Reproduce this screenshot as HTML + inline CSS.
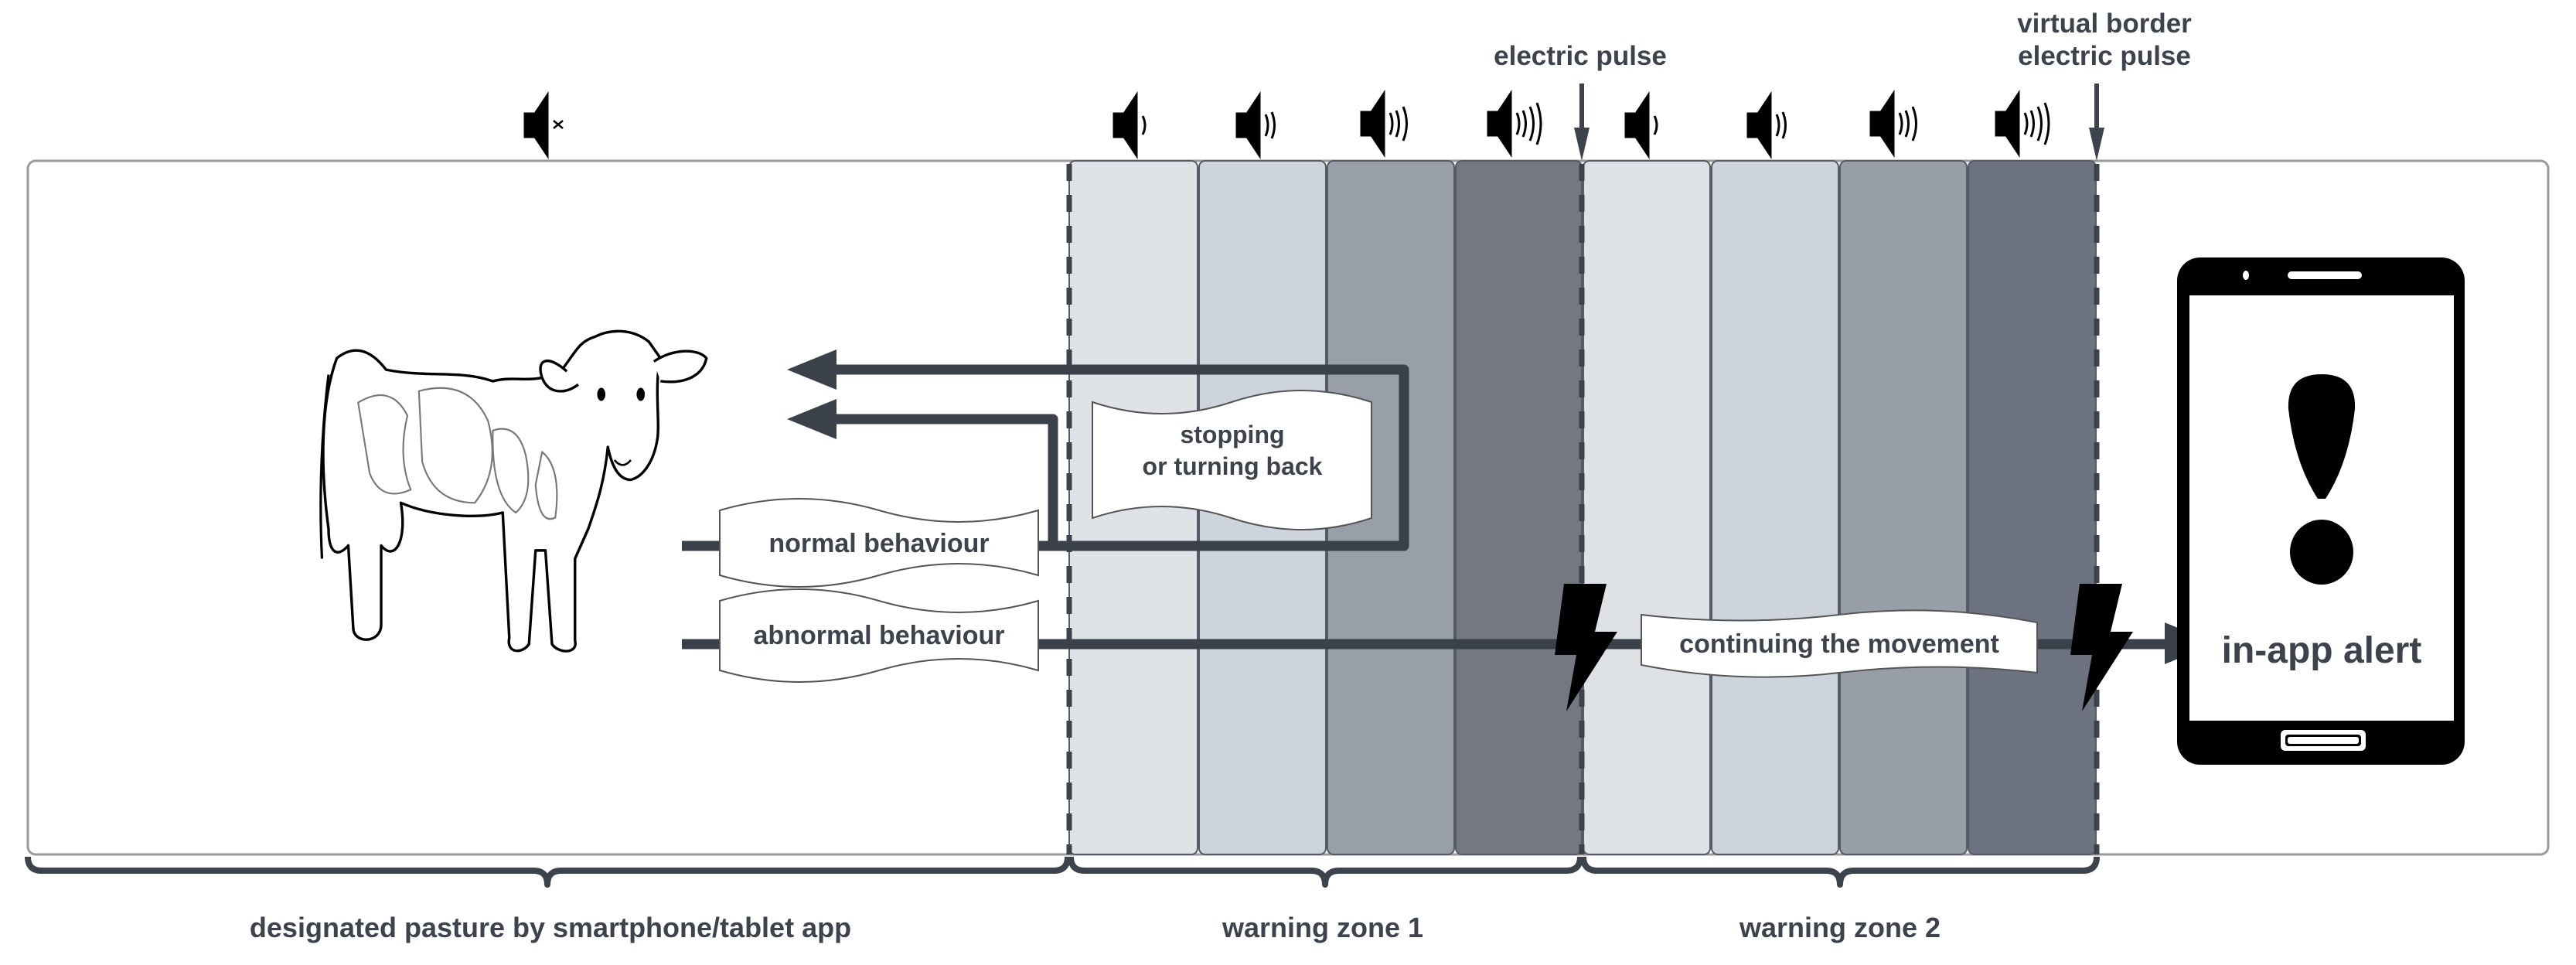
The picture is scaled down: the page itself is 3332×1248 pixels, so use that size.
<!DOCTYPE html>
<html><head><meta charset="utf-8"><style>
html,body{margin:0;padding:0;background:#fff;}
svg{display:block}
text{font-family:"Liberation Sans",sans-serif;font-weight:bold;fill:#3d434d;}
</style></head><body>
<svg width="3332" height="1248" viewBox="0 0 3332 1248" xmlns="http://www.w3.org/2000/svg">
<defs>
<g id="spk">
<path d="M-21,-15 h13 l16,-24 v78 l-16,-24 h-13 z" fill="#000"/>
</g>
</defs>
<rect x="36" y="208" width="3260" height="897" rx="10" fill="#fff" stroke="#9a9a9a" stroke-width="3"/>
<g stroke="#555b66" stroke-width="2">
<rect x="1383" y="208" width="166" height="897" rx="8" fill="#dfe3e8"/>
<rect x="1551" y="208" width="164" height="897" rx="8" fill="#cdd4dc"/>
<rect x="1717" y="208" width="164" height="897" rx="8" fill="#989fa9"/>
<rect x="1883" y="208" width="163" height="897" rx="8" fill="#737883"/>
<rect x="2048" y="208" width="164" height="897" rx="8" fill="#dee2e7"/>
<rect x="2214" y="208" width="164" height="897" rx="8" fill="#cdd4dc"/>
<rect x="2380" y="208" width="164" height="897" rx="8" fill="#979ea8"/>
<rect x="2546" y="208" width="165" height="897" rx="8" fill="#6c7280"/>
</g>
<g stroke="#3d434d" stroke-width="7" stroke-dasharray="22,18">
<line x1="1383" y1="212" x2="1383" y2="1105"/>
<line x1="2046" y1="212" x2="2046" y2="1105"/>
<line x1="2712" y1="212" x2="2712" y2="1105"/>
</g>
<text x="2044" y="84" font-size="35" text-anchor="middle">electric pulse</text>
<text x="2722" y="42" font-size="35" text-anchor="middle">virtual border</text>
<text x="2722" y="84" font-size="35" text-anchor="middle">electric pulse</text>
<g fill="#3d434d" stroke="#3d434d">
<line x1="2046" y1="108" x2="2046" y2="170" stroke-width="6"/>
<polygon points="2036,165 2056,165 2046,208" stroke="none"/>
<line x1="2712" y1="108" x2="2712" y2="170" stroke-width="6"/>
<polygon points="2702,165 2722,165 2712,208" stroke="none"/>
</g>
<g fill="none" stroke="#000" stroke-width="3">
<use href="#spk" x="700" y="162"/>
<path d="M716,156 l12,10 M728,156 l-12,10" stroke-width="2.5"/>
<use href="#spk" x="1462" y="162"/><path d="M1478,150 q6,12 0,24"/>
<use href="#spk" x="1621" y="162"/><path d="M1637,148 q6,14 0,28 M1645,145 q7,17 0,34"/>
<use href="#spk" x="1782" y="160"/><path d="M1798,146 q6,14 0,28 M1806,143 q7,17 0,34 M1815,138 q9,22 0,44"/>
<use href="#spk" x="1946" y="160"/><path d="M1962,146 q6,14 0,28 M1970,143 q7,17 0,34 M1979,138 q9,22 0,44 M1988,133 q10,27 0,54"/>
<use href="#spk" x="2124" y="162"/><path d="M2140,150 q6,12 0,24"/>
<use href="#spk" x="2282" y="162"/><path d="M2298,148 q6,14 0,28 M2306,145 q7,17 0,34"/>
<use href="#spk" x="2441" y="160"/><path d="M2457,146 q6,14 0,28 M2465,143 q7,17 0,34 M2474,138 q9,22 0,44"/>
<use href="#spk" x="2603" y="160"/><path d="M2619,146 q6,14 0,28 M2627,143 q7,17 0,34 M2636,138 q9,22 0,44 M2645,133 q10,27 0,54"/>
</g>
<!-- cow -->
<g transform="scale(2.125)" stroke-linejoin="round">
<path d="M200,228 C196,260 194,300 196,340" fill="none" stroke="#000" stroke-width="1.5"/>
<path d="M205,218 C215,210 225,212 235,225 C260,230 280,225 300,232 C315,228 325,235 342,225 C350,215 352,208 362,205 C372,200 385,200 395,208 L402,218 C398,235 402,258 400,268 C398,280 392,290 384,292 C376,292 372,282 370,272 C368,292 364,305 358,322 L350,340 L350,390 C352,398 340,398 336,392 L332,335 L326,335 L322,392 C318,398 308,398 310,388 L306,312 C290,316 262,314 244,306 C248,330 240,342 232,332 L232,380 C232,392 215,392 215,382 L212,332 C205,340 200,336 200,322 C195,285 195,245 205,218 Z" fill="#fff" stroke="#000" stroke-width="1.6"/>
<path d="M345,226 C334,216 326,218 330,230 C334,240 344,240 352,234" fill="#fff" stroke="#000" stroke-width="1.6"/>
<path d="M398,220 C410,212 425,212 430,218 C428,228 418,234 402,232" fill="#fff" stroke="#000" stroke-width="1.6"/>
<ellipse cx="366" cy="240" rx="2.5" ry="4" fill="#000"/>
<ellipse cx="390" cy="240" rx="2.5" ry="4" fill="#000"/>
<path d="M374,280 q5,6 10,0" fill="none" stroke="#000" stroke-width="1.2"/>
<g fill="none" stroke="#777" stroke-width="1">
<path d="M218,245 q20,-12 30,8 q-6,25 2,45 q-18,8 -25,-10 z"/>
<path d="M255,238 q30,-8 42,18 q8,30 -8,50 q-25,0 -32,-25 z"/>
<path d="M300,262 q15,-5 20,15 q5,25 -6,35 q-15,-10 -14,-50 z"/>
<path d="M330,275 q12,10 8,40 q-10,5 -12,-20 z"/>
</g>
</g>
<g stroke="#3a414b" stroke-width="13" fill="none" stroke-linejoin="round">
<path d="M882,706 H1816 V478 H1080"/>
<path d="M1362,706 V542 H1080"/>
<path d="M882,833 H2800"/>
</g>
<g fill="#3a414b">
<polygon points="1018,478 1082,452 1082,504"/>
<polygon points="1018,542 1082,516 1082,568"/>
<polygon points="2866,832 2800,805 2800,859"/>
</g>
<g fill="#fff" stroke="#555" stroke-width="2">
<path d="M931,660 q103,-30 206,0 t206,0 V744 q-103,-30 -206,0 t-206,0 z"/>
<path d="M931,777 q103,-30 206,0 t206,0 V867 q-103,-30 -206,0 t-206,0 z"/>
<path d="M1413,520 q90,30 180,0 t181,0 V670 q-90,30 -181,0 t-180,0 z"/>
<path d="M2123,795 q128,15 256,0 t256,10 V870 q-128,-15 -256,0 t-256,-10 z"/>
</g>
<text x="1137" y="714" font-size="34" text-anchor="middle">normal behaviour</text>
<text x="1137" y="833" font-size="34" text-anchor="middle">abnormal behaviour</text>
<text x="1594" y="573" font-size="32" text-anchor="middle">stopping</text>
<text x="1594" y="614" font-size="32" text-anchor="middle">or turning back</text>
<text x="2379" y="844" font-size="34" text-anchor="middle">continuing the movement</text>
<polygon points="2023,755 2078,755 2063,817 2092,817 2026,920 2039,847 2011,847" fill="#000"/>
<polygon points="2690,755 2745,755 2730,817 2759,817 2693,920 2706,847 2678,847" fill="#000"/>
<rect x="2816" y="333" width="372" height="656" rx="30" fill="#000"/>
<rect x="2832" y="382" width="342" height="550" fill="#fff"/>
<rect x="2959" y="351" width="96" height="10" rx="5" fill="#fff"/>
<ellipse cx="2905" cy="356" rx="4" ry="6" fill="#fff"/>
<rect x="2956" y="950" width="98" height="15" rx="4" fill="#000"/>
<rect x="2950" y="944" width="110" height="27" rx="6" fill="#fff"/>
<rect x="2956" y="950" width="98" height="15" rx="4" fill="#000"/>
<rect x="2959" y="953" width="92" height="9" rx="3" fill="#fff"/>
<path d="M3003,484 q45,0 43,45 q-8,70 -38,116 h-10 q-30,-46 -38,-116 q-2,-45 43,-45 z" fill="#000"/>
<ellipse cx="3003" cy="714" rx="41" ry="42" fill="#000"/>
<text x="3003" y="857" font-size="48" text-anchor="middle">in-app alert</text>
<g fill="none" stroke="#3d434d" stroke-width="8" stroke-linejoin="round">
<path d="M36,1108 q0,18 18,18 H690 q18,0 18,18 q0,-18 18,-18 H1363 q18,0 18,-18"/>
<path d="M1385,1108 q0,18 18,18 H1696 q18,0 18,18 q0,-18 18,-18 H2026 q18,0 18,-18"/>
<path d="M2048,1108 q0,18 18,18 H2362 q18,0 18,18 q0,-18 18,-18 H2694 q18,0 18,-18"/>
</g>
<text x="712" y="1212" font-size="36" text-anchor="middle">designated pasture by smartphone/tablet app</text>
<text x="1711" y="1212" font-size="36" text-anchor="middle">warning zone 1</text>
<text x="2380" y="1212" font-size="36" text-anchor="middle">warning zone 2</text>
</svg>
</body></html>
